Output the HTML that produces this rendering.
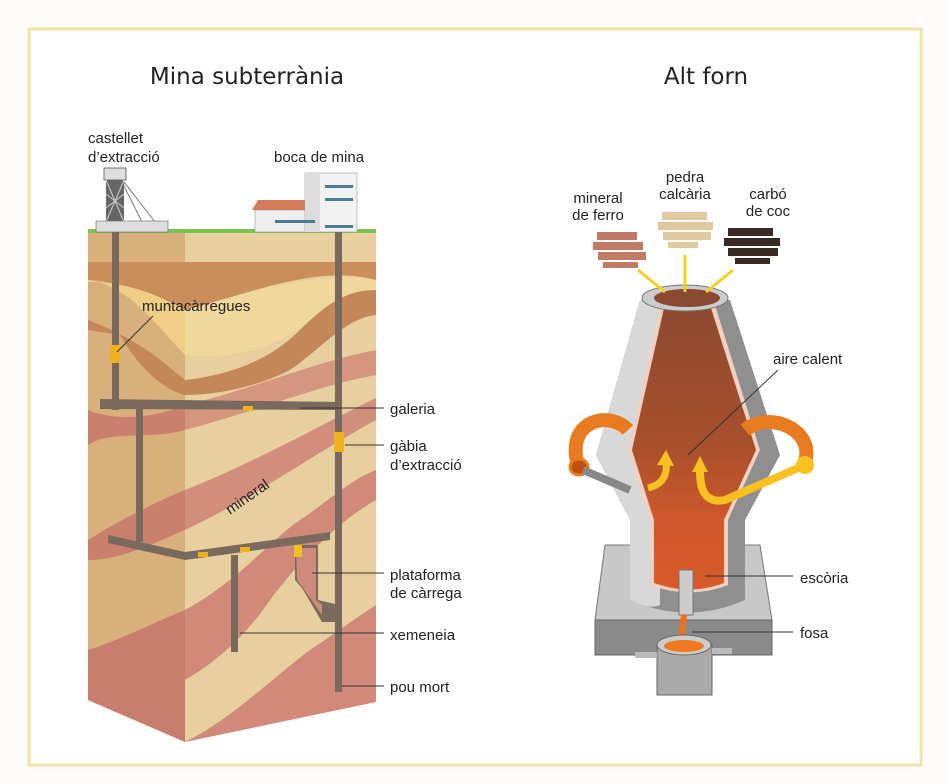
<!DOCTYPE html>
<html><head><meta charset="utf-8"><style>
html,body{margin:0;padding:0;background:#fff}
svg{display:block}
text{font-family:"Liberation Sans",sans-serif;fill:#222}
</style></head><body>
<svg width="949" height="783" viewBox="0 0 949 783" xmlns="http://www.w3.org/2000/svg">
<defs>
<linearGradient id="fg" x1="0" y1="0" x2="0" y2="1">
<stop offset="0" stop-color="#8e4a30"/><stop offset="0.5" stop-color="#a8502c"/><stop offset="0.75" stop-color="#d0582c"/><stop offset="1" stop-color="#d85a2a"/>
</linearGradient>
</defs>
<rect x="0" y="0" width="949" height="783" fill="#fefcf8"/>
<rect x="29" y="29" width="892" height="736" fill="#fff" stroke="#f3e2a8" stroke-width="3"/>
<text x="247" y="84" font-size="23" text-anchor="middle" style="font-family:'DejaVu Sans',sans-serif" fill="#111">Mina subterrània</text>
<text x="706" y="84" font-size="23" text-anchor="middle" style="font-family:'DejaVu Sans',sans-serif" fill="#111">Alt forn</text>

<!-- Mine block -->
<polygon points="88,232 185,232 185,742 88,700" fill="#d9b07c"/>
<polygon points="185,232 376,232 376,702 185,742" fill="#e8cf9e"/>
<path d="M88,262 L185,262 L185,310 C160,300 120,280 88,280Z" fill="#c98e5a"/>
<path d="M88,280 C130,285 160,330 185,355 L185,310 C150,290 120,282 88,282Z" fill="#efcf86"/>
<path d="M88,330 L120,335 C140,370 165,390 185,395 L185,380 C160,360 140,340 88,320Z" fill="#c4875a"/>
<path d="M88,410 C110,420 150,420 185,405 L185,430 C150,440 110,430 88,445Z" fill="#c9806c"/>
<path d="M88,540 C120,520 160,500 185,490 L185,530 C150,545 120,560 88,560Z" fill="#c9806c"/>
<path d="M88,650 C120,640 160,620 185,610 L185,742 L88,700Z" fill="#c77e6e"/>
<path d="M185,262 L376,262 L376,280 C320,265 260,290 185,310Z" fill="#c98e5a"/>
<path d="M185,310 C260,290 320,270 376,280 L376,315 C330,300 300,330 270,345 C240,355 210,358 185,355Z" fill="#f0d79c"/>
<path d="M185,380 C230,375 270,360 300,330 C330,300 350,290 376,290 L376,315 C345,318 320,350 290,370 C250,390 210,395 185,395Z" fill="#c4875a"/>
<path d="M185,405 C250,390 320,360 376,350 L376,375 C320,385 260,410 185,430Z" fill="#d5967e"/>
<path d="M185,490 C260,460 330,420 376,398 L376,420 C320,450 250,500 185,530Z" fill="#d28e7c"/>
<path d="M185,610 C240,580 270,540 300,520 C330,500 350,480 376,470 L376,500 C340,520 300,560 270,600 C250,630 220,660 185,680Z" fill="#d1897a"/>
<path d="M185,742 C230,720 270,680 310,650 C340,630 360,615 376,605 L376,702Z" fill="#d1897a"/>
<rect x="88" y="229" width="288" height="4" fill="#79c24f"/>
<rect x="104" y="168" width="22" height="12" fill="#ddd" stroke="#555" stroke-width="0.8"/>
<rect x="106" y="180" width="18" height="42" fill="#666"/>
<path d="M106,180 L124,222 M124,180 L106,222 M106,194 L124,208 M124,194 L106,208" stroke="#ccc" stroke-width="1"/>
<path d="M124,182 L155,222 M124,186 L142,222" stroke="#777" stroke-width="1"/>
<rect x="96" y="221" width="72" height="11" fill="#ddd" stroke="#666" stroke-width="0.6"/>
<rect x="255" y="210" width="66" height="22" fill="#eee" stroke="#999" stroke-width="0.6"/>
<polygon points="252,210 325,210 318,200 258,200" fill="#d27a5a"/>
<rect x="305" y="173" width="52" height="59" fill="#f2f2f2" stroke="#999" stroke-width="0.6"/>
<rect x="305" y="173" width="15" height="59" fill="#ddd"/>
<g fill="#4a7d8f"><rect x="325" y="185" width="28" height="3"/><rect x="325" y="198" width="28" height="3"/><rect x="325" y="225" width="28" height="3"/><rect x="275" y="220" width="40" height="3"/></g>
<g fill="#7a6a5e">
<rect x="112" y="232" width="7" height="178"/>
<rect x="335" y="232" width="7" height="460"/>
<polygon points="100,399 340,402 340,410 100,409"/>
<rect x="136" y="409" width="7" height="133"/>
<polygon points="108,535 185,552 330,532 330,540 185,560 108,543"/>
<rect x="231" y="555" width="7" height="97"/>
<polygon points="295,545 318,545 318,600 335,604 335,622 322,622 302,588 295,580"/>
</g>
<polygon points="296,548 316,548 316,600 322,605 322,615 303,588 297,580" fill="#cf8a7c"/>
<rect x="110" y="345" width="10" height="18" fill="#f0b020"/>
<rect x="334" y="432" width="10" height="20" fill="#f0b020"/>
<rect x="294" y="545" width="8" height="12" fill="#f0c020"/>
<rect x="243" y="406" width="10" height="5" fill="#f0b020"/><rect x="198" y="552" width="10" height="5" fill="#f0b020"/><rect x="240" y="547" width="10" height="5" fill="#f0b020"/>
<text x="230" y="515" font-size="15" transform="rotate(-35 230 515)" fill="#333">mineral</text>
<g font-size="15">
<text x="88" y="143">castellet</text><text x="88" y="162">d’extracció</text>
<text x="274" y="162">boca de mina</text>
<text x="142" y="311">muntacàrregues</text>
<text x="390" y="414">galeria</text>
<text x="390" y="451">gàbia</text><text x="390" y="470">d’extracció</text>
<text x="390" y="580">plataforma</text><text x="390" y="598">de càrrega</text>
<text x="390" y="640">xemeneia</text>
<text x="390" y="692">pou mort</text>
</g>
<g stroke="#333" stroke-width="1" fill="none">
<path d="M117,352 L153,316"/><path d="M300,408 L384,408"/><path d="M345,445 L384,445"/>
<path d="M312,573 L384,573"/><path d="M240,633 L384,633"/><path d="M342,686 L384,686"/>
</g>

<!-- Furnace -->
<polygon points="605,545 760,545 772,620 595,620" fill="#c8c8c8" stroke="#777" stroke-width="1"/>
<rect x="595" y="620" width="177" height="35" fill="#8a8a8a" stroke="#666"/>
<path d="M640,300 L596,455 L630,520 L630,600 Q688,625 745,600 L745,520 L780,455 L730,300Z" fill="#8f8f8f"/>
<path d="M640,300 L596,455 L630,520 L630,600 Q650,610 660,605 L660,520 L640,455 L668,300Z" fill="#d8d8d8"/>
<path d="M660,305 L628,450 L650,520 L650,585 Q690,600 728,585 L728,520 L760,450 L715,305Z" fill="#f0d0c0"/>
<path d="M664,308 L632,450 L654,520 L654,583 Q690,596 724,583 L724,520 L756,450 L711,308Z" fill="url(#fg)"/>
<ellipse cx="685" cy="298" rx="43" ry="13" fill="#ccc" stroke="#777"/>
<ellipse cx="687" cy="298" rx="33" ry="9" fill="#8a4a32"/>
<path d="M578,465 C565,420 610,410 628,430" stroke="#e87a20" stroke-width="14" fill="none"/>
<ellipse cx="579" cy="467" rx="9" ry="8" fill="#c05010" stroke="#e87a20" stroke-width="3"/>
<path d="M583,470 L630,490" stroke="#888" stroke-width="8"/>
<path d="M745,430 C770,410 815,430 805,462" stroke="#e87a20" stroke-width="14" fill="none"/>
<path d="M805,465 L725,500 C700,505 700,480 700,470" stroke="#f8c020" stroke-width="8" fill="none"/>
<circle cx="805" cy="465" r="9" fill="#f8c020"/>
<path d="M648,488 C660,485 668,478 666,462" stroke="#f8c020" stroke-width="7" fill="none"/>
<polygon points="657,465 666,450 674,466" fill="#f8c020"/><polygon points="692,472 700,456 708,472" fill="#f8c020"/>
<rect x="679" y="570" width="14" height="45" fill="#ccc" stroke="#777"/>
<path d="M684,615 L680,650" stroke="#f07020" stroke-width="6"/>
<rect x="657" y="645" width="55" height="50" fill="#aaa" stroke="#666"/>
<ellipse cx="684" cy="645" rx="27" ry="10" fill="#ccc" stroke="#666"/>
<ellipse cx="684" cy="646" rx="20" ry="6" fill="#f07820"/>
<rect x="635" y="652" width="22" height="6" fill="#bbb"/><rect x="712" y="648" width="20" height="6" fill="#bbb"/>
<g fill="#c07a66"><rect x="597" y="232" width="40" height="8"/><rect x="593" y="242" width="50" height="8"/><rect x="598" y="252" width="48" height="8"/><rect x="603" y="262" width="35" height="6"/></g>
<g fill="#e0c8a0"><rect x="662" y="212" width="45" height="8"/><rect x="658" y="222" width="55" height="8"/><rect x="663" y="232" width="48" height="8"/><rect x="668" y="242" width="30" height="6"/></g>
<g fill="#3a2a26"><rect x="728" y="228" width="45" height="8"/><rect x="724" y="238" width="56" height="8"/><rect x="728" y="248" width="50" height="8"/><rect x="735" y="258" width="35" height="6"/></g>
<g stroke="#f4d020" stroke-width="3" fill="#f4d020">
<path d="M638,270 L665,292"/><path d="M685,255 L685,292"/><path d="M733,270 L706,292"/>
</g>
<g font-size="15">
<text x="598" y="203" text-anchor="middle">mineral</text><text x="598" y="220" text-anchor="middle">de ferro</text>
<text x="685" y="182" text-anchor="middle">pedra</text><text x="685" y="199" text-anchor="middle">calcària</text>
<text x="768" y="199" text-anchor="middle">carbó</text><text x="768" y="216" text-anchor="middle">de coc</text>
<text x="773" y="364">aire calent</text>
<text x="800" y="583">escòria</text>
<text x="800" y="638">fosa</text>
</g>
<g stroke="#333" stroke-width="1"><path d="M688,455 L778,370"/><path d="M705,576 L793,576"/><path d="M692,632 L793,632"/></g>
</svg>
</body></html>
